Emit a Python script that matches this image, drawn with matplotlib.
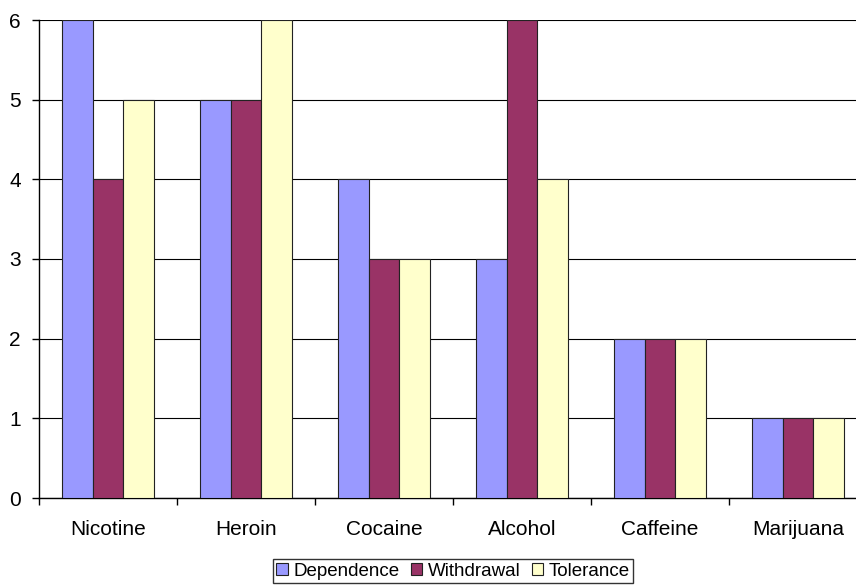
import numpy as np
import matplotlib.pyplot as plt
from matplotlib.patches import Patch

drugs = ['Nicotine', 'Heroin', 'Cocaine', 'Alcohol', 'Caffeine', 'Marijuana']
dependence = [6, 5, 4, 3, 2, 1]
withdrawal = [4, 5, 3, 6, 2, 1]
tolerance = [5, 6, 3, 4, 2, 1]

series = [('Dependence', dependence, '#9999FF'),
          ('Withdrawal', withdrawal, '#993366'),
          ('Tolerance', tolerance, '#FFFFCC')]

plt.rcParams['font.family'] = ['Liberation Sans', 'DejaVu Sans']

fig = plt.figure(figsize=(8.56, 5.85), dpi=100)
# axes run a bit past the right edge of the figure
ax = fig.add_axes([39 / 856, 1 - 498 / 585, (867 - 39) / 856, (498 - 20) / 585])

x = np.arange(len(drugs))
w = 0.222
for i, (name, vals, col) in enumerate(series):
    ax.bar(x + (i - 1) * w, vals, w, color=col, edgecolor='#222222', linewidth=0.8,
           label=name, zorder=3)

ax.set_xlim(-0.5, len(drugs) - 0.5)
ax.set_ylim(0, 6)
ax.set_yticks(range(0, 7))
ax.yaxis.grid(True, color='black', linewidth=0.8, zorder=0)
ax.set_axisbelow(True)

ax.set_xticks(np.arange(-0.5, len(drugs), 1.0))
ax.set_xticklabels([])
ax.set_xticks(x, minor=True)
ax.set_xticklabels(drugs, minor=True, fontsize=15)
ax.tick_params(axis='x', which='minor', length=0, pad=16)
ax.tick_params(axis='x', which='major', length=5, width=1, direction='out')
ax.tick_params(axis='y', length=5, width=1, direction='out', labelsize=15, pad=8)

for s in ['top', 'right']:
    ax.spines[s].set_visible(False)
for s in ['left', 'bottom']:
    ax.spines[s].set_linewidth(1)

handles = [Patch(facecolor=c, edgecolor='#222222', linewidth=0.8, label=n) for n, _, c in series]
leg = fig.legend(handles=handles, loc='center', bbox_to_anchor=(453 / 856, 1 - 571 / 585),
                 ncol=3, fontsize=13.5, frameon=True, fancybox=False, edgecolor='black',
                 handlelength=0.6, handleheight=0.6, handletextpad=0.3, columnspacing=0.6,
                 borderpad=0.2, borderaxespad=0)
leg.get_frame().set_linewidth(1)

fig.savefig('out.png', dpi=100)
